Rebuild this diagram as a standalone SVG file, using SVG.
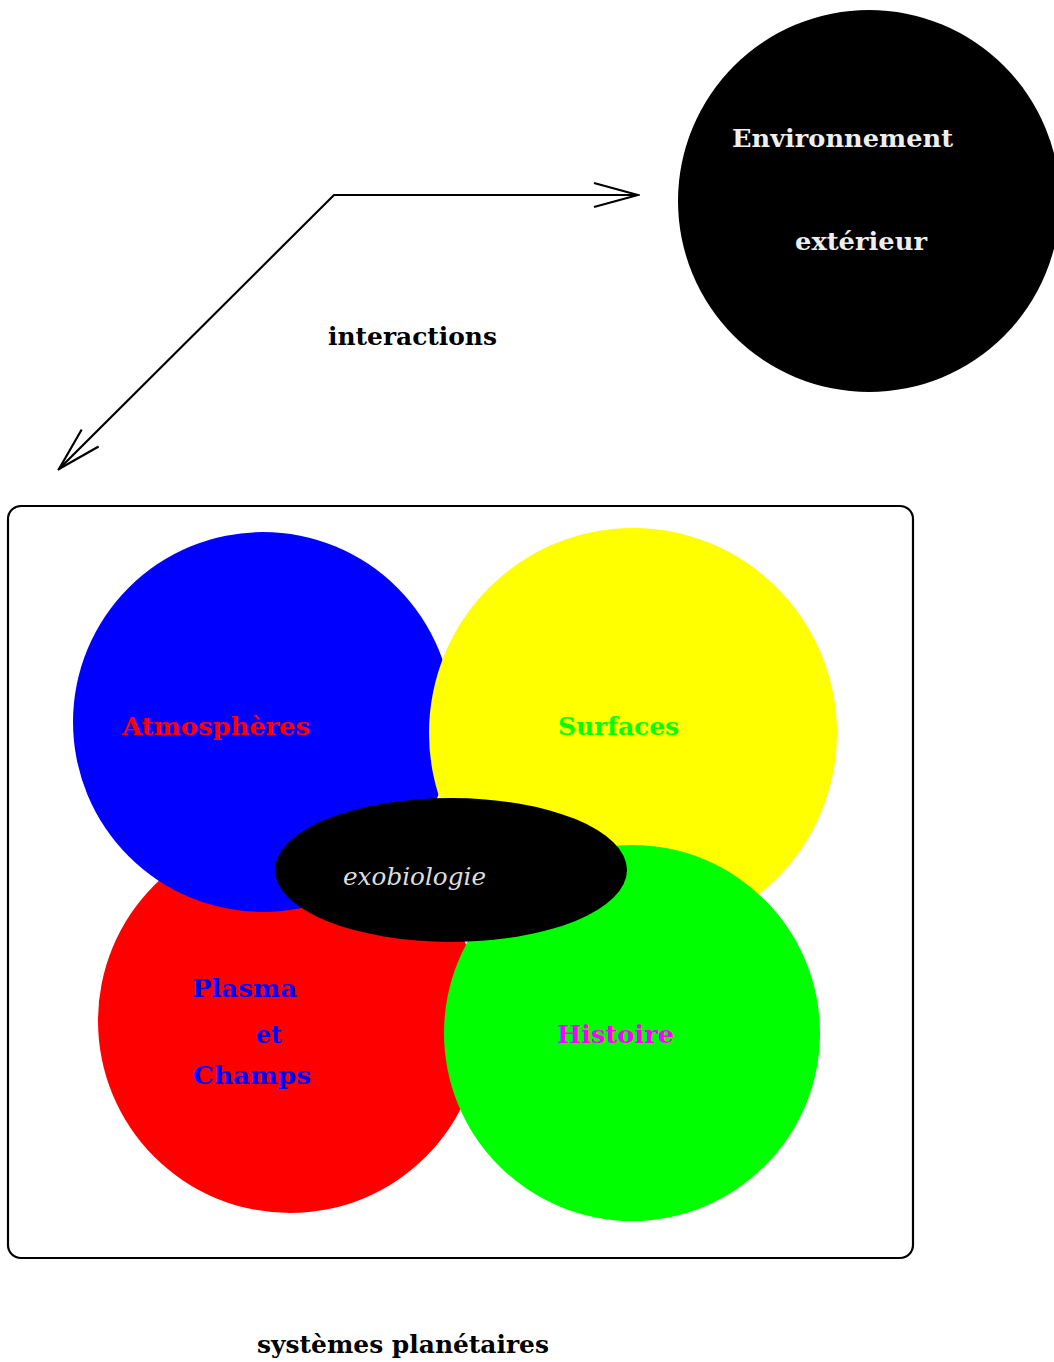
<svg xmlns="http://www.w3.org/2000/svg" width="1054" height="1362" viewBox="0 0 1054 1362">
<style>
.t{font-family:"DejaVu Serif","Liberation Serif",serif;font-weight:bold;font-size:25px}
.i{font-family:"DejaVu Serif","Liberation Serif",serif;font-style:italic;font-size:25px}
.c{fill:none;stroke:#000;stroke-width:2.2}
</style>
<defs>
<marker id="arr" viewBox="0 0 50 30" refX="48" refY="15" markerWidth="50" markerHeight="30" markerUnits="userSpaceOnUse" orient="auto-start-reverse">
<path d="M4,3 L48,15 L4,27" fill="none" stroke="#000" stroke-width="2.2"/>
</marker>
</defs>
<rect width="1054" height="1362" fill="#fff"/>
<g id="connectors">
<polyline class="c" points="59,469 334,195 638,195" marker-start="url(#arr)" marker-end="url(#arr)"/>
<text class="t" x="328" y="345" textLength="169" lengthAdjust="spacingAndGlyphs">interactions</text>
</g>
<g id="environnement">
<circle cx="869" cy="201" r="191" fill="#000"/>
<text class="t" x="732" y="147" fill="#eee" textLength="221" lengthAdjust="spacingAndGlyphs">Environnement</text>
<text class="t" x="795" y="250" fill="#eee" textLength="132" lengthAdjust="spacingAndGlyphs">extérieur</text>
</g>
<g id="systemes">
<rect x="8" y="506" width="905" height="752" rx="13" fill="none" stroke="#000" stroke-width="2.2"/>
<text class="t" x="257" y="1353" textLength="292" lengthAdjust="spacingAndGlyphs">systèmes planétaires</text>
</g>
<g id="plasma">
<circle cx="290" cy="1021" r="192" fill="#f00"/>
</g>
<g id="atmospheres">
<circle cx="263" cy="722" r="190" fill="#00f"/>
<text class="t" x="122" y="735" fill="#f00" textLength="188" lengthAdjust="spacingAndGlyphs">Atmosphères</text>
</g>
<g id="surfaces">
<ellipse cx="633" cy="733" rx="204" ry="205" fill="#ff0"/>
<text class="t" x="558" y="735" fill="#0f0" textLength="121" lengthAdjust="spacingAndGlyphs">Surfaces</text>
</g>
<g id="histoire">
<circle cx="632" cy="1033" r="188" fill="#0f0"/>
<text class="t" x="557" y="1043" fill="#f0f" textLength="117" lengthAdjust="spacingAndGlyphs">Histoire</text>
</g>
<g id="plasma-label">
<text class="t" x="192" y="997" fill="#00f" textLength="105" lengthAdjust="spacingAndGlyphs">Plasma</text>
<text class="t" x="256" y="1043" fill="#00f" textLength="26" lengthAdjust="spacingAndGlyphs">et</text>
<text class="t" x="193" y="1084" fill="#00f" textLength="118" lengthAdjust="spacingAndGlyphs">Champs</text>
</g>
<g id="exobiologie">
<ellipse cx="451" cy="870" rx="176" ry="72" fill="#000"/>
<text class="i" x="343" y="885" fill="#ddd" textLength="143" lengthAdjust="spacingAndGlyphs">exobiologie</text>
</g>
</svg>
